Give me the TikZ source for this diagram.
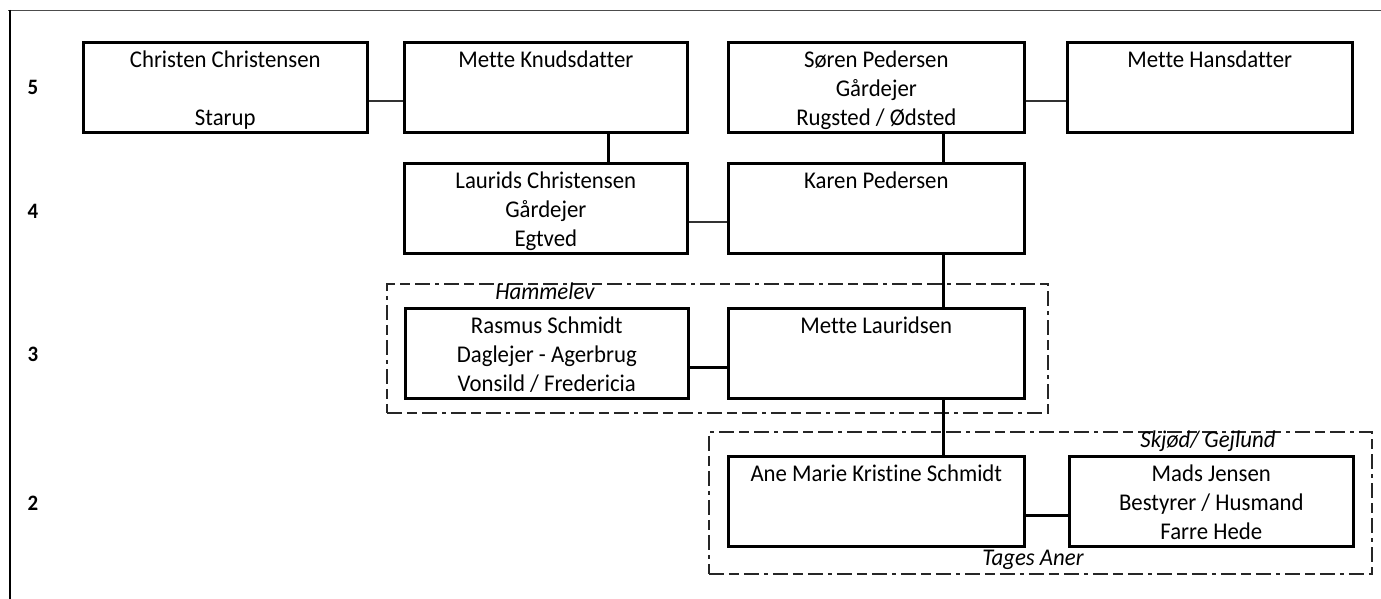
\documentclass[tikz,border=0pt]{standalone}
\usepackage{fontspec}
\setmainfont{Carlito}[FakeStretch=0.95,Ligatures={NoCommon}]
\newcommand\mystrut{\rule[-5.5pt]{0pt}{29pt}}
\begin{document}
\begin{tikzpicture}[x=1pt,y=-1pt,
  person/.style={draw,line width=2.6pt,rectangle,anchor=north west,inner sep=0pt,
    minimum height=90pt,align=center,
    font=\fontsize{24}{29}\selectfont},
  thinlink/.style={line width=1.5pt,draw=black!80},
  thicklink/.style={line width=3pt},
  groupbox/.style={draw=black!85,line width=1.6pt,
    dash pattern=on 15pt off 5pt on 10pt off 5pt on 15pt off 5pt on 4pt off 5pt},
  gen/.style={font=\fontsize{22}{26}\selectfont\bfseries},
  place/.style={font=\fontsize{24}{29}\selectfont\itshape,inner sep=0pt,anchor=base}]
\useasboundingbox (0,0) rectangle (1381,599);
% frame
\coordinate (fl) at (8,10.5);
\coordinate (fr) at (1381,10.5);
\coordinate (ft) at (10,10);
\coordinate (fb) at (10,599);
\draw[line width=1.8pt,black!70] (fl) -- (fr);
\draw[line width=2.6pt] (ft) -- (fb);
% generation labels
\node[gen] (g5) at (33,87) {5};
\node[gen] (g4) at (33,211) {4};
\node[gen] (g3) at (33,354) {3};
\node[gen] (g2) at (33,503) {2};
% group boxes
\node[groupbox,rectangle,anchor=north west,inner sep=0pt,minimum width=661pt,minimum height=129pt] (hamm) at (386,283) {};
\node[groupbox,rectangle,anchor=north west,inner sep=0pt,minimum width=663pt,minimum height=142pt] (tages) at (708,431) {};
% persons
\node[person,minimum width=284pt] (christen) at (82,41) {\mystrut Christen Christensen\\\mystrut\\\mystrut Starup};
\node[person,minimum width=283pt] (metteK) at (403,41) {\mystrut Mette Knudsdatter\\\mystrut\\\mystrut};
\node[person,minimum width=296pt] (soren) at (727,41) {\mystrut Søren Pedersen\\\mystrut Gårdejer\\\mystrut Rugsted / Ødsted};
\node[person,minimum width=285pt] (metteH) at (1066,41) {\mystrut Mette Hansdatter\\\mystrut\\\mystrut};
\node[person,minimum width=283pt] (laurids) at (403,162) {\mystrut Laurids Christensen\\\mystrut Gårdejer\\\mystrut Egtved};
\node[person,minimum width=296pt] (karen) at (727,162) {\mystrut Karen Pedersen\\\mystrut\\\mystrut};
\node[person,minimum width=283pt] (rasmus) at (404,307) {\mystrut Rasmus Schmidt\\\mystrut Daglejer - Agerbrug\\\mystrut Vonsild / Fredericia};
\node[person,minimum width=296pt] (metteL) at (727,307) {\mystrut Mette Lauridsen\\\mystrut\\\mystrut};
\node[person,minimum width=296pt] (ane) at (727,455) {\mystrut Ane Marie Kristine Schmidt\\\mystrut\\\mystrut};
\node[person,minimum width=284pt] (mads) at (1068,455) {\mystrut Mads Jensen\\\mystrut Bestyrer / Husmand\\\mystrut Farre Hede};
% place labels
\node[place] (lhamm) at (545,299) {Hammelev};
\node[place] (lskj) at (1208,447) {Skjød/ Gejlund};
\node[place] (ltag) at (1033,565) {Tages Aner};
% connectors
\draw[thinlink] (christen.east |- 0,101) -- (metteK.west |- 0,101);
\draw[thinlink] (soren.east |- 0,101) -- (metteH.west |- 0,101);
\draw[thinlink] (laurids.east |- 0,222) -- (karen.west |- 0,222);
\draw[thicklink] (rasmus.east |- 0,367) -- (metteL.west |- 0,367);
\draw[thicklink] (ane.east |- 0,515) -- (mads.west |- 0,515);
\draw[thicklink] (metteK.south -| 608,0) -- (laurids.north -| 608,0);
\draw[thicklink] (soren.south -| 943,0) -- (karen.north -| 943,0);
\draw[thicklink] (karen.south -| 943,0) -- (metteL.north -| 943,0);
\draw[thicklink] (metteL.south -| 943,0) -- (ane.north -| 943,0);
\end{tikzpicture}
\end{document}
